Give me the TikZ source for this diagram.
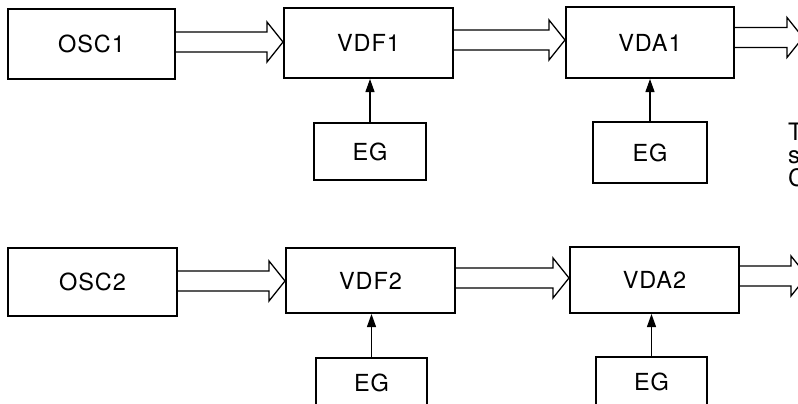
\documentclass[tikz,border=0pt]{standalone}
\usepackage{fontspec}
\setmainfont{TeX Gyre Heros}[LetterSpace=4]
\usetikzlibrary{calc,arrows.meta}

% wide outlined arrow between two points on a common level
\newcommand\fatarrow[3]{%
  \draw[fatline] ($(#1 |- 0,#3)+(0,-10)$)
    -- ($(#2 |- 0,#3)+(-16,-10)$) -- ++(0,-10)
    -- (#2 |- 0,#3)
    -- ++(-16,20) -- ++(0,-10)
    -- ($(#1 |- 0,#3)+(0,10)$);}

\tikzset{
  blk/.style={draw, line width=2pt, inner sep=0pt,
    font=\fontsize{23.5}{28}\selectfont},
  fatline/.style={line width=1.3pt, line join=miter},
  ctrl/.style={line width=1.2pt, -{Triangle[length=13pt,width=9pt]}},
  cut/.style={anchor=base west, inner sep=0pt,
    font=\fontsize{24}{28}\selectfont},
}

\begin{document}
\begin{tikzpicture}[x=1pt,y=-1pt]
\useasboundingbox (0,0) rectangle (798,404);
\clip (0,0) rectangle (798,404);

% upper voice
\node[blk, minimum width=167pt, minimum height=70pt] (osc1) at (91.5,44) {OSC1};
\node[blk, minimum width=169pt, minimum height=70pt] (vdf1) at (368.5,43) {VDF1};
\node[blk, minimum width=168pt, minimum height=71pt] (vda1) at (650,42.5) {VDA1};
\node[blk, minimum width=112pt, minimum height=57pt] (eg1) at (370,151.5) {EG};
\node[blk, minimum width=114pt, minimum height=61pt] (eg2) at (650,152.5) {EG};
\coordinate (out1) at (803,37.5);

\fatarrow{osc1.east}{vdf1.west}{42}
\fatarrow{vdf1.east}{vda1.west}{40}
\fatarrow{vda1.east}{out1}{37.5}
\draw[ctrl] (eg1.north) -- (eg1.north |- vdf1.south);
\draw[ctrl] (eg2.north) -- (eg2.north |- vda1.south);

% lower voice
\node[blk, minimum width=169pt, minimum height=68pt] (osc2) at (92.5,282) {OSC2};
\node[blk, minimum width=169pt, minimum height=65pt] (vdf2) at (370.5,280.5) {VDF2};
\node[blk, minimum width=169pt, minimum height=66pt] (vda2) at (654.5,280) {VDA2};
\node[blk, minimum width=111pt, minimum height=50pt] (eg3) at (371.5,383) {EG};
\node[blk, minimum width=111pt, minimum height=50pt] (eg4) at (651.5,382) {EG};
\coordinate (out2) at (807,276);

\fatarrow{osc2.east}{vdf2.west}{281}
\fatarrow{vdf2.east}{vda2.west}{278}
\fatarrow{vda2.east}{out2}{276}
\draw[ctrl] (eg3.north) -- (eg3.north |- vdf2.south);
\draw[ctrl] (eg4.north) -- (eg4.north |- vda2.south);

% text running off the right edge
\node[cut] (t1) at (788,140) {T};
\node[cut] (t2) at (788,163) {s};
\node[cut] (t3) at (788,186) {C};
\end{tikzpicture}
\end{document}
